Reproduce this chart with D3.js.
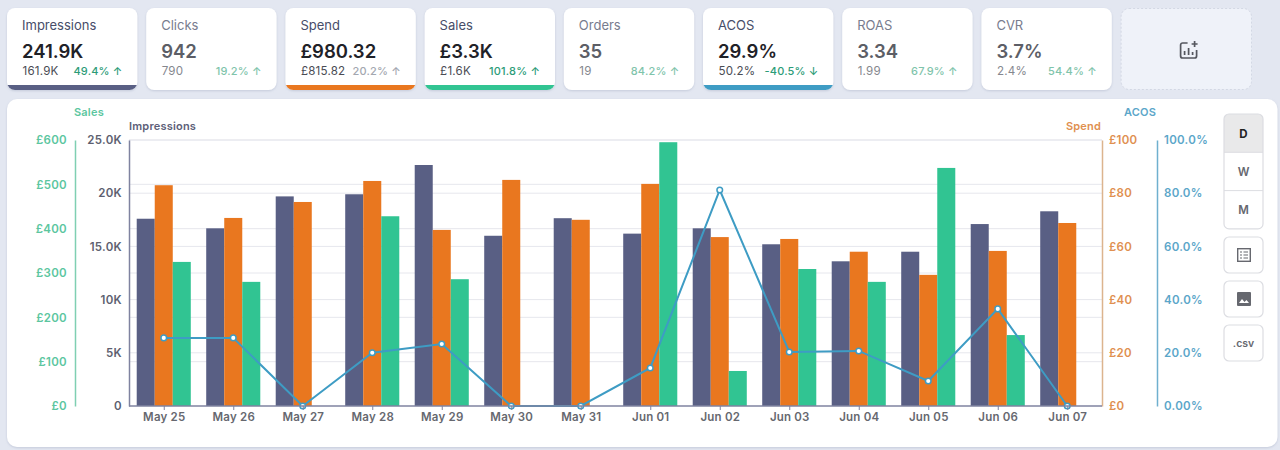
<!DOCTYPE html>
<html><head><meta charset="utf-8">
<script src="https://cdn.jsdelivr.net/npm/d3@7"></script>
<style>
html,body{margin:0;padding:0;background:#e3e7f1;overflow:hidden}
svg{display:block}
text{font-family:Inter,"Noto Sans",sans-serif}
</style></head><body>
<script>
// Campaign period
const days = ["May 25","May 26","May 27","May 28","May 29","May 30","May 31","Jun 01","Jun 02","Jun 03","Jun 04","Jun 05","Jun 06","Jun 07"];
const impressions = [17600,16700,19700,19900,22650,16000,17650,16200,16700,15200,13600,14500,17100,18300];
const spend = [83,70.7,76.7,84.6,66.2,85,70,83.5,63.5,62.8,58,49.3,58.3,68.8];
const sales = [325,280,0,428,286,0,0,595,79,309,280,537,160,0];
const acos = [25.6,25.6,0,20,23.3,0,0,14.3,81.2,20.3,20.7,9.4,36.5,0];

// Axis ticks
const impressionTicks = [0,5000,10000,15000,20000,25000];
const impressionLabels = ["0","5K","10K","15.0K","20K","25.0K"];
const salesTicks = [0,100,200,300,400,500,600];
const spendTicks = [0,20,40,60,80,100];
const acosTicks = [0,20,40,60,80,100];
const acosLabels = ["0.00%","20.0%","40.0%","60.0%","80.0%","100.0%"];

// KPI cards
const cardNames = ["Impressions","Clicks","Spend","Sales","Orders","ACOS","ROAS","CVR"];
const cardValues = ["241.9K","942","£980.32","£3.3K","35","29.9%","3.34","3.7%"];
const cardPrevious = ["161.9K","790","£815.82","£1.6K","19","50.2%","1.99","2.4%"];
const cardChanges = ["49.4% ↑","19.2% ↑","20.2% ↑","101.8% ↑","84.2% ↑","-40.5% ↓","67.9% ↑","54.4% ↑"];
const cardActive = [true,false,true,true,false,true,false,false];
const cardChangeMuted = [false,false,true,false,false,false,false,false];

const C = {imp:"#595f84", spend:"#e9771f", sales:"#31c492", acos:"#3e9cc4"};
const cardStripes = [C.imp,null,C.spend,C.sales,null,C.acos,null,null];

const svg = d3.select("body").append("svg").attr("width",1280).attr("height",450);

const defs = svg.append("defs");
const shadow = defs.append("filter").attr("id","soft").attr("x","-5%").attr("y","-5%").attr("width","110%").attr("height","115%");
shadow.append("feDropShadow").attr("dx",0).attr("dy",1).attr("stdDeviation",0.8).attr("flood-color","#aab2c8").attr("flood-opacity",0.55);

// ---- KPI row ----
const cardX = d3.scaleLinear().domain([0,1]).range([7,146.2]);
const cardW = 130.4, cardTop = 8, cardH = 82;

cardNames.forEach((name,i)=>{
  const x = cardX(i);
  const g = svg.append("g").attr("transform",`translate(${x},${cardTop})`);
  const clipId = "card"+i;
  defs.append("clipPath").attr("id",clipId).append("rect").attr("width",cardW).attr("height",cardH).attr("rx",8);
  g.append("rect").attr("width",cardW).attr("height",cardH).attr("rx",8).attr("fill","#fff").attr("filter","url(#soft)");
  if(cardStripes[i]) g.append("rect").attr("y",cardH-5).attr("width",cardW).attr("height",5).attr("fill",cardStripes[i]).attr("clip-path",`url(#${clipId})`);
  const on = cardActive[i];
  g.append("text").attr("x",15).attr("y",22).attr("font-size",13).attr("fill",on?"#474d69":"#787c8e").text(name);
  g.append("text").attr("x",15).attr("y",50).attr("font-size",18.5).attr("font-weight",600).attr("fill",on?"#1f2228":"#5c5e66").text(cardValues[i]);
  g.append("text").attr("x",15.5).attr("y",67).attr("font-size",11.6).attr("letter-spacing",0.2).attr("fill",on?"#4a4c54":"#85878e").text(cardPrevious[i]);
  const muted = cardChangeMuted[i];
  g.append("text").attr("x",115.5).attr("y",67).attr("text-anchor","end").attr("font-size",11).attr("font-weight",500).attr("letter-spacing",0.2)
    .attr("fill",muted?"#a3a7b0":(on?"#2c9c78":"#7fc4ab")).text(cardChanges[i]);
});

// "add metric" placeholder
const addG = svg.append("g").attr("transform",`translate(${cardX(8)},${cardTop})`);
addG.append("rect").attr("x",.5).attr("y",.5).attr("width",cardW).attr("height",cardH-1).attr("rx",8)
  .attr("fill","#eff2f9").attr("stroke","#d3d8e4").attr("stroke-dasharray","2 2");
const addIcon = addG.append("g").attr("transform","translate(59,33)").attr("fill","none").attr("stroke","#55575f").attr("stroke-width",1.7);
addIcon.append("path").attr("d","M8 2H3a2 2 0 0 0-2 2v11a2 2 0 0 0 2 2h12a2 2 0 0 0 2-2V9");
addIcon.append("path").attr("d","M5 14V10M9 14V7M13 14v-3");
addIcon.append("path").attr("d","M15 0v6M12 3h6");

// ---- chart panel ----
svg.append("rect").attr("x",7).attr("y",99).attr("width",1270.5).attr("height",348).attr("rx",10).attr("fill","#fff").attr("filter","url(#soft)");

const plot = {left:129,right:1102,top:140,bottom:406};
const yImp = d3.scaleLinear().domain([0,25000]).range([plot.bottom,plot.top]);
const ySales = d3.scaleLinear().domain([0,600]).range([plot.bottom,plot.top]);
const ySpend = d3.scaleLinear().domain([0,100]).range([plot.bottom,plot.top]);
const yAcos = d3.scaleLinear().domain([0,100]).range([plot.bottom,plot.top]);
const x0 = d3.scaleBand().domain(days).range([plot.left,plot.right]).paddingInner(.222).paddingOuter(.111);
const x1 = d3.scaleBand().domain(["imp","spend","sales"]).range([0,x0.bandwidth()]);
const mid = d => x0(d)+x0.bandwidth()/2;

// gridlines for the primary and the sales scale
const grid = svg.append("g").attr("stroke","#e6e7ed").attr("stroke-width",1);
impressionTicks.slice(1).forEach(t=>grid.append("line").attr("x1",plot.left).attr("x2",plot.right).attr("y1",yImp(t)).attr("y2",yImp(t)));
salesTicks.slice(1).forEach(t=>grid.append("line").attr("x1",plot.left).attr("x2",plot.right).attr("y1",ySales(t)).attr("y2",ySales(t)));

// bars
const drawBars = (vals,key,scale,color)=>svg.append("g").selectAll("rect").data(days).join("rect")
  .attr("x",d=>x0(d)+x1(key)).attr("width",x1.bandwidth())
  .attr("y",(d,i)=>scale(vals[i])).attr("height",(d,i)=>plot.bottom-scale(vals[i])).attr("fill",color);
drawBars(impressions,"imp",yImp,C.imp);
drawBars(spend,"spend",ySpend,C.spend);
drawBars(sales,"sales",ySales,C.sales);

// ACOS line
const line = d3.line().x((d,i)=>mid(days[i])).y(d=>yAcos(d));
svg.append("path").attr("d",line(acos)).attr("fill","none").attr("stroke",C.acos).attr("stroke-width",2);
svg.append("g").selectAll("circle").data(acos).join("circle")
  .attr("cx",(d,i)=>mid(days[i])).attr("cy",d=>yAcos(d)).attr("r",2.8)
  .attr("fill","#fff").attr("stroke",C.acos).attr("stroke-width",1.5);

// axes
function styleAxis(g,lineColor,textColor){
  g.selectAll(".tick line").remove();
  g.select(".domain").attr("stroke",lineColor).attr("stroke-width",1.5);
  g.selectAll("text").attr("fill",textColor).attr("font-size",11.5).attr("font-weight",600).attr("letter-spacing",0.3);
}
const fmtFrom = (ticks,labels)=>t=>labels[ticks.indexOf(t)];
const axSales = svg.append("g").attr("transform","translate(75,0)")
  .call(d3.axisLeft(ySales).tickValues(salesTicks).tickFormat(d=>"£"+d).tickSize(0).tickPadding(8));
styleAxis(axSales,"#7fcfb2","#5cc6a0");
const axImp = svg.append("g").attr("transform",`translate(${plot.left},0)`)
  .call(d3.axisLeft(yImp).tickValues(impressionTicks).tickFormat(fmtFrom(impressionTicks,impressionLabels)).tickSize(0).tickPadding(7));
styleAxis(axImp,"#7f83a0","#5d5f70");
const axSpend = svg.append("g").attr("transform",`translate(${plot.right},0)`)
  .call(d3.axisRight(ySpend).tickValues(spendTicks).tickFormat(d=>"£"+d).tickSize(0).tickPadding(7));
styleAxis(axSpend,"#dcb48e","#e09050");
const axAcos = svg.append("g").attr("transform","translate(1157,0)")
  .call(d3.axisRight(yAcos).tickValues(acosTicks).tickFormat(fmtFrom(acosTicks,acosLabels)).tickSize(0).tickPadding(7));
styleAxis(axAcos,"#6fb0cf","#5ba6c9");

const axX = svg.append("g").attr("transform",`translate(0,${plot.bottom})`)
  .call(d3.axisBottom(d3.scalePoint().domain(days).range([mid(days[0]),mid(days[13])])).tickSize(4).tickPadding(3).tickSizeOuter(0));
axX.select(".domain").remove();
axX.append("line").attr("x1",plot.left).attr("x2",plot.right).attr("stroke","#7f83a0").attr("stroke-width",1.3);
axX.selectAll(".tick line").attr("stroke","#7f83a0");
axX.selectAll("text").attr("fill","#66686f").attr("font-size",11.5).attr("font-weight",600).attr("letter-spacing",0.2);

// axis titles
const title = (t,x,y,anchor,color)=>svg.append("text").attr("x",x).attr("y",y).attr("text-anchor",anchor)
  .attr("font-size",11).attr("font-weight",600).attr("letter-spacing",0.2).attr("fill",color).text(t);
title("Sales",74,116,"start","#5cc6a0");
title("Impressions",129,130,"start","#5d6078");
title("Spend",1101,130,"end","#e09050");
title("ACOS",1156,116,"end","#5ba6c9");

// ---- side controls ----
const side = svg.append("g");
const btnX = 1224, btnW = 39, btnTop = 114, btnStep = 38.3;
const periods = ["D","W","M"];
defs.append("clipPath").attr("id","periodClip").append("rect").attr("x",btnX).attr("y",btnTop).attr("width",btnW).attr("height",btnStep*3).attr("rx",5);
side.append("rect").attr("x",btnX).attr("y",btnTop).attr("width",btnW).attr("height",btnStep).attr("fill","#e9e9ea").attr("clip-path","url(#periodClip)");
side.append("rect").attr("x",btnX).attr("y",btnTop).attr("width",btnW).attr("height",btnStep*3).attr("rx",5).attr("fill","none").attr("stroke","#dcdde2").attr("stroke-width",1.2);
periods.forEach((p,i)=>{
  const y = btnTop+i*btnStep;
  if(i>0) side.append("line").attr("x1",btnX).attr("x2",btnX+btnW).attr("y1",y).attr("y2",y).attr("stroke","#dcdde2");
  side.append("text").attr("x",btnX+btnW/2).attr("y",y+23.5).attr("text-anchor","middle").attr("font-size",11.5)
    .attr("font-weight",i===0?700:600).attr("fill",i===0?"#222":"#66686f").text(p);
});
[237,281,325].forEach(y=>side.append("rect").attr("x",btnX).attr("y",y).attr("width",btnW).attr("height",36)
  .attr("rx",5).attr("fill","#fff").attr("stroke","#dcdde2").attr("stroke-width",1.2));
// table icon
const tableIcon = side.append("g").attr("transform","translate(1237,248)");
tableIcon.append("rect").attr("x",.7).attr("y",.7).attr("width",12.6).attr("height",12.6).attr("fill","none").attr("stroke","#66686f").attr("stroke-width",1.4);
tableIcon.append("path").attr("d","M3 4h2M6.5 4H11M3 7h2M6.5 7H11M3 10h2M6.5 10H11").attr("stroke","#66686f").attr("stroke-width",1.2);
// image icon
const imgIcon = side.append("g").attr("transform","translate(1237,292)");
imgIcon.append("rect").attr("width",14).attr("height",14).attr("rx",1).attr("fill","#66686f");
imgIcon.append("path").attr("d","M2 11l3-4 2.5 3 2-2 2.5 3z").attr("fill","#fff");
side.append("text").attr("x",btnX+btnW/2).attr("y",347).attr("text-anchor","middle").attr("font-size",10.5).attr("font-weight",600).attr("fill","#66686f").text(".csv");
</script>
</body></html>
